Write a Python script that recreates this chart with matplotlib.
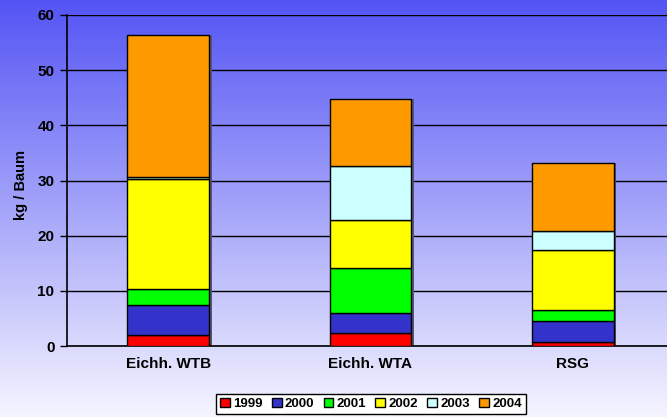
import numpy as np
import matplotlib.pyplot as plt

plt.rcParams['font.family'] = ['Liberation Sans', 'DejaVu Sans']
plt.rcParams['font.weight'] = 'bold'

standorte = ['Eichh. WTB', 'Eichh. WTA', 'RSG']
jahre = ['1999', '2000', '2001', '2002', '2003', '2004']
ertrag_1999 = [2.0, 2.3, 0.8]
ertrag_2000 = [5.4, 3.7, 3.7]
ertrag_2001 = [2.9, 8.1, 2.0]
ertrag_2002 = [19.9, 8.8, 10.9]
ertrag_2003 = [0.5, 9.8, 3.5]
ertrag_2004 = [25.6, 12.0, 12.2]
farben = ['#ff0000', '#3333cc', '#00ff00', '#ffff00', '#ccffff', '#ff9900']

serien = [ertrag_1999, ertrag_2000, ertrag_2001, ertrag_2002, ertrag_2003, ertrag_2004]

fig = plt.figure(figsize=(6.67, 4.17), dpi=100)

# background gradient over the whole figure
bg = fig.add_axes([0, 0, 1, 1], zorder=-10)
grad = np.linspace(0, 1, 256).reshape(-1, 1)
top = np.array([0.33, 0.33, 0.96])
bottom = np.array([0.96, 0.96, 1.0])
img = top + (bottom - top) * grad[:, :, None]
img = np.clip(img * np.ones((1, 2, 1)), 0, 1)
bg.imshow(img, aspect='auto', extent=[0, 1, 0, 1], origin='upper')
bg.axis('off')

ax = fig.add_axes([67 / 667, 71 / 417, 607 / 667, 331 / 417])
ax.patch.set_alpha(0)

x = np.arange(len(standorte))
unten = np.zeros(len(standorte))
for werte, farbe, jahr in zip(serien, farben, jahre):
    # slight drop shadow
    ax.bar(x + 0.012, werte, 0.405, bottom=unten, color='#555577', zorder=2)
    ax.bar(x, werte, 0.405, bottom=unten, color=farbe, edgecolor='black',
           linewidth=1, label=jahr, zorder=3)
    unten += np.array(werte)

ax.set_xlim(-0.5, 2.5)
ax.set_ylim(0, 60)
ax.set_yticks(range(0, 61, 10))
ax.yaxis.grid(True, color='black', linewidth=1)
ax.set_axisbelow(True)
ax.set_xticks(x)
ax.set_xticklabels(standorte, fontsize=11, fontweight='bold')
ax.tick_params(axis='x', length=0, pad=8)
ax.tick_params(axis='y', labelsize=11, length=5, width=1, pad=4)
ax.set_ylabel('kg / Baum', fontsize=10.5, fontweight='bold')
ax.yaxis.set_label_coords(-0.064, 0.486)
for s in ['top', 'right']:
    ax.spines[s].set_visible(False)
ax.spines['left'].set_linewidth(1.2)
ax.spines['bottom'].set_linewidth(1.2)

leg = fig.legend(loc='center', bbox_to_anchor=(371 / 667, 13 / 417), ncol=6,
                 frameon=True, fancybox=False, handlelength=0.75,
                 handleheight=0.75, handletextpad=0.25, columnspacing=0.7,
                 borderpad=0.3, prop={'weight': 'bold', 'size': 9.5})
leg.get_frame().set_edgecolor('black')
leg.get_frame().set_linewidth(1)
leg.get_frame().set_facecolor('white')
leg.get_frame().set_alpha(1)

fig.savefig('out.png', dpi=100)
